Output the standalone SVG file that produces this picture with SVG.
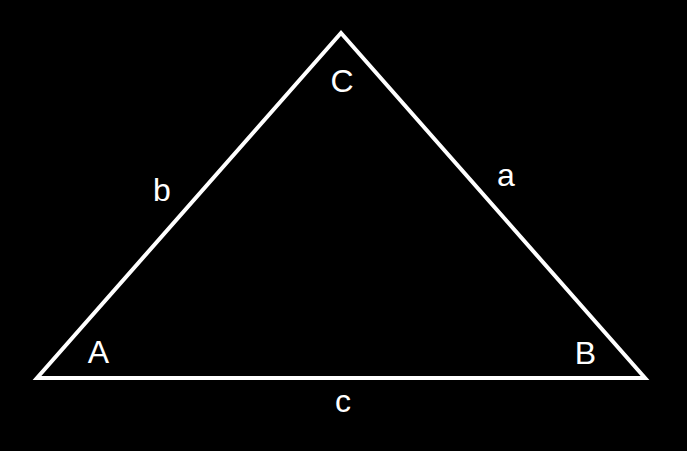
<svg xmlns="http://www.w3.org/2000/svg" width="687" height="451" viewBox="0 0 687 451">
<style>
.lbl{font-family:"Liberation Sans",Arial,sans-serif;font-size:32px;fill:#fff;text-anchor:middle}
</style>
<rect width="687" height="451" fill="#000"/>
<g id="connectors">
<polygon points="37,378 645,378 341,33" fill="none" stroke="#fff" stroke-width="4" stroke-linejoin="miter"/>
</g>
<g id="vertexA"><text class="lbl" x="98.5" y="363">A</text></g>
<g id="vertexB"><text class="lbl" x="585.5" y="364">B</text></g>
<g id="vertexC"><text class="lbl" x="342" y="92">C</text></g>
<g id="sideA"><text class="lbl" x="506" y="186">a</text></g>
<g id="sideB"><text class="lbl" x="162" y="201">b</text></g>
<g id="sideC"><text class="lbl" x="343" y="412">c</text></g>
</svg>
